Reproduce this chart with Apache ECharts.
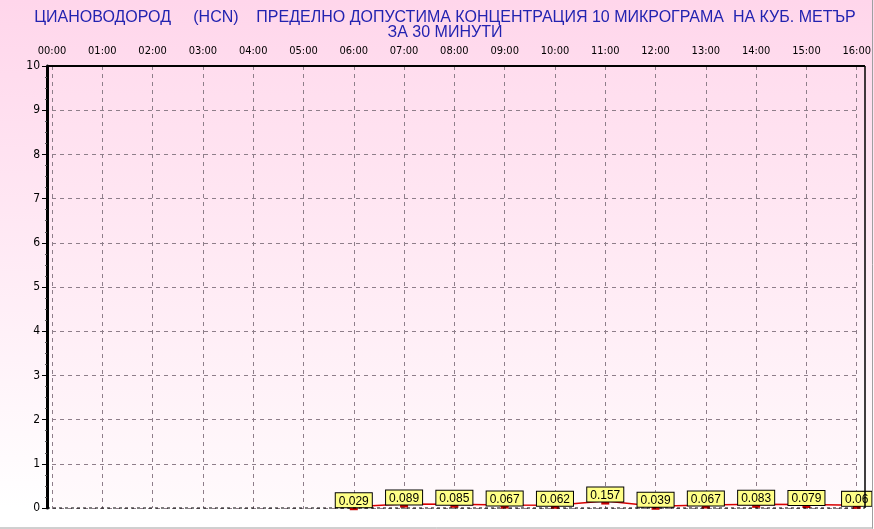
<!DOCTYPE html>
<html><head><meta charset="utf-8">
<script src="https://cdn.jsdelivr.net/npm/echarts@6/dist/echarts.min.js"></script>
<style>html,body{margin:0;padding:0;background:#fff}#c{width:874px;height:529px}</style>
</head><body><div id="c"></div>
<script>
var hours = ["00:00","01:00","02:00","03:00","04:00","05:00","06:00","07:00","08:00","09:00","10:00","11:00","12:00","13:00","14:00","15:00","16:00"];
var values = [null,null,null,null,null,null,0.029,0.089,0.085,0.067,0.062,0.157,0.039,0.067,0.083,0.079,0.06];
var yTicks = [0,1,2,3,4,5,6,7,8,9,10];
var titleLine1 = "ЦИАНОВОДОРОД     (HCN)    ПРЕДЕЛНО ДОПУСТИМА КОНЦЕНТРАЦИЯ 10 МИКРОГРАМА  НА КУБ. МЕТЪР";
var titleLine2 = "ЗА 30 МИНУТИ";

var G = {left:52, right:13, top:66, bottom:21};
var W = 874, H = 529;
var chart = echarts.init(document.getElementById('c'), null, {renderer:'canvas'});
var narrow = "'Liberation Sans Narrow','Arial Narrow','DejaVu Sans Condensed',sans-serif";
chart.setOption({
  animation:false,
  backgroundColor:{type:'linear',x:0,y:0,x2:0,y2:1,colorStops:[{offset:0,color:'#FFD6EB'},{offset:0.96,color:'#FFFFFF'},{offset:1,color:'#FFFFFF'}]},
  title:{
    text:titleLine1+"\n"+titleLine2,
    left:440, top:5, textAlign:'center',
    textStyle:{color:'#2323B0',fontSize:16,fontWeight:'normal',fontFamily:"'Liberation Sans',Arial,sans-serif",lineHeight:15}
  },
  grid:{left:G.left,right:G.right,top:G.top,bottom:G.bottom,show:true,borderWidth:0,
    backgroundColor:{type:'linear',x:0,y:0,x2:0,y2:1,colorStops:[{offset:0,color:'#FFDDEE'},{offset:1,color:'#FFFAFC'}]}},
  xAxis:{
    type:'category', data:hours, position:'top', boundaryGap:false,
    axisLine:{show:false},
    axisTick:{show:false},
    axisLabel:{interval:0,color:'#000',fontSize:11,fontFamily:narrow,margin:9},
    splitLine:{show:true,lineStyle:{color:'#8E7E8A',type:[4,4],width:1}}
  },
  yAxis:{
    type:'value', min:0, max:10, interval:1, offset:5,
    axisLine:{show:true,lineStyle:{color:'#000',width:3}},
    axisTick:{show:true,length:5,lineStyle:{color:'#000'}},
    minorTick:{show:true,splitNumber:4,length:2,lineStyle:{color:'#555'}},
    axisLabel:{color:'#000',fontSize:12,fontFamily:narrow,margin:7,
      formatter:function(v){return yTicks.indexOf(v)>=0?String(v):'';}},
    splitLine:{show:true,lineStyle:{color:'#8E7E8A',type:[4,4],width:1}}
  },
  series:[{
    type:'line', data:values, connectNulls:false,
    lineStyle:{color:'#D80000',width:1.5},
    symbol:'rect', symbolSize:[8,7], showSymbol:true,
    itemStyle:{color:'#C80000'},
    label:{show:true,position:'top',distance:-4,
      formatter:function(p){return String(p.value);},
      color:'#000',fontSize:12,fontFamily:"'Liberation Sans',Arial,sans-serif",
      backgroundColor:'#FFFF88',borderColor:'#000',borderWidth:1,padding:[2,3,0,3],lineHeight:12},
    z:3
  }],
  graphic:[
    {type:'line',shape:{x1:47,y1:G.top,x2:865,y2:G.top},style:{stroke:'#000',lineWidth:2},z:10},
    {type:'line',shape:{x1:865,y1:G.top,x2:865,y2:H-G.bottom},style:{stroke:'#000',lineWidth:1.5},z:10},
    {type:'line',shape:{x1:47,y1:H-G.bottom,x2:865,y2:H-G.bottom},style:{stroke:'#000',lineWidth:1,lineDash:[3,3]},z:10},
    {type:'line',shape:{x1:872.5,y1:0,x2:872.5,y2:528.5},style:{stroke:'#A0A0A0',lineWidth:1},z:10},
    {type:'line',shape:{x1:0,y1:528,x2:873,y2:528},style:{stroke:'#A0A0A0',lineWidth:1},z:10}
  ]
});
</script></body></html>
